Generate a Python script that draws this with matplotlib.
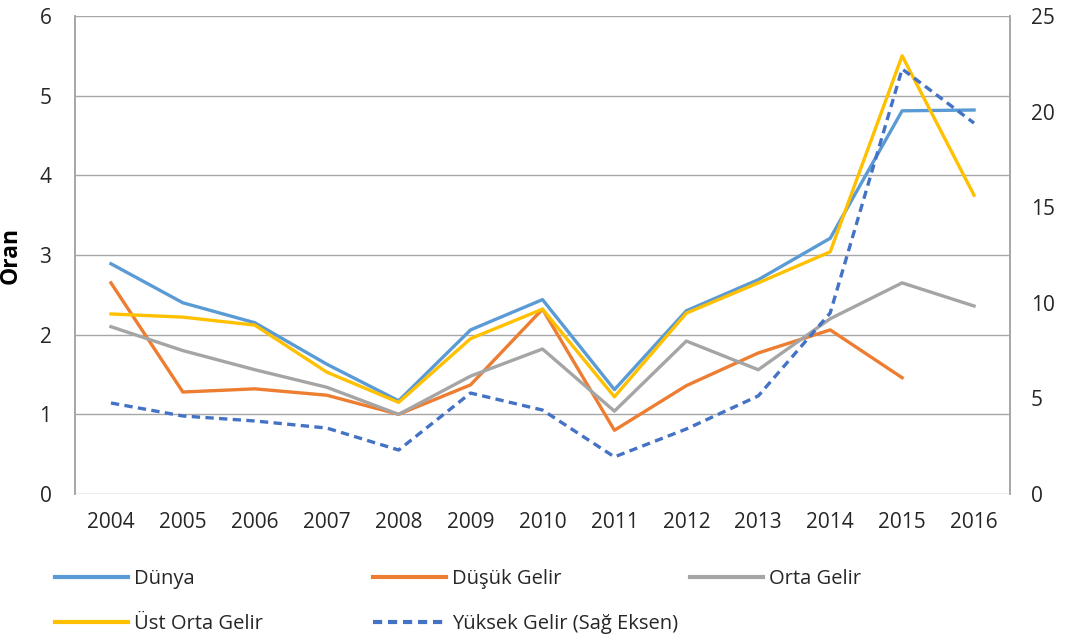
import matplotlib.pyplot as plt
from matplotlib.lines import Line2D

plt.rcParams['font.family'] = ['Open Sans', 'DejaVu Sans']

years = [2004, 2005, 2006, 2007, 2008, 2009, 2010, 2011, 2012, 2013, 2014, 2015, 2016]
dunya = [2.89, 2.40, 2.15, 1.63, 1.17, 2.06, 2.44, 1.31, 2.30, 2.69, 3.21, 4.81, 4.82]
dusuk = [2.65, 1.28, 1.32, 1.24, 1.00, 1.37, 2.32, 0.80, 1.36, 1.77, 2.06, 1.46, None]
orta = [2.10, 1.80, 1.56, 1.34, 1.00, 1.48, 1.82, 1.04, 1.92, 1.56, 2.20, 2.65, 2.36]
ust_orta = [2.26, 2.22, 2.12, 1.53, 1.15, 1.95, 2.32, 1.22, 2.27, 2.65, 3.04, 5.50, 3.75]
yuksek = [4.76, 4.08, 3.82, 3.45, 2.30, 5.28, 4.39, 1.94, 3.40, 5.13, 9.47, 22.23, 19.40]

c_dunya = '#5B9BD5'
c_dusuk = '#ED7D31'
c_orta = '#A5A5A5'
c_ust = '#FFC000'
c_yuk = '#4472C4'
grid_c = '#A6A6A6'
text_c = '#262626'

fig = plt.figure(figsize=(10.67, 6.4), dpi=100)
ax = fig.add_axes([75 / 1067, 1 - 494 / 640, 935 / 1067, 478 / 640])
ax2 = ax.twinx()

x = list(range(len(years)))
lw = 2.4
ax.plot(x, dunya, color=c_dunya, lw=lw, label='Dünya')
ax.plot(x[:-1], dusuk[:-1], color=c_dusuk, lw=lw, label='Düşük Gelir')
ax.plot(x, orta, color=c_orta, lw=lw, label='Orta Gelir')
ax.plot(x, ust_orta, color=c_ust, lw=lw, label='Üst Orta Gelir')
ax2.plot(x, yuksek, color=c_yuk, lw=lw, ls=(0, (2.5, 1.6)), label='Yüksek Gelir (Sağ Eksen)')

ax.set_xlim(-0.5, len(years) - 0.5)
ax.set_ylim(0, 6)
ax2.set_ylim(0, 25)
ax.set_yticks(range(0, 7))
ax2.set_yticks(range(0, 26, 5))
ax.set_xticks(x)
ax.set_xticklabels([str(y) for y in years])

ax.yaxis.grid(True, color=grid_c, lw=1)
ax.set_axisbelow(True)
for a in (ax, ax2):
    a.spines['top'].set_visible(False)
    a.spines['bottom'].set_visible(False)
    a.spines['left'].set_color(grid_c)
    a.spines['right'].set_color(grid_c)
    a.spines['left'].set_linewidth(1.2)
    a.spines['right'].set_linewidth(1.2)
    a.tick_params(length=0, labelsize=15, colors=text_c)
ax.tick_params(axis='y', pad=17)
ax.tick_params(axis='x', pad=13)
ax2.tick_params(axis='y', pad=15)

ax.set_ylabel('Oran', fontsize=16.5, fontweight='bold', color='black', labelpad=12)

# legend laid out in equal-width columns like the original
h_dunya = Line2D([], [], color=c_dunya, lw=3)
h_dusuk = Line2D([], [], color=c_dusuk, lw=3)
h_orta = Line2D([], [], color=c_orta, lw=3)
h_ust = Line2D([], [], color=c_ust, lw=3)
h_yuk = Line2D([], [], color=c_yuk, lw=3, ls=(0, (2.2, 1.4)))

columns = [
    ([h_dunya, h_ust], ['Dünya', 'Üst Orta Gelir'], 55),
    ([h_dusuk, h_yuk], ['Düşük Gelir', 'Yüksek Gelir (Sağ Eksen)'], 373),
    ([h_orta], ['Orta Gelir'], 690),
]
for handles, labels, px in columns:
    leg = fig.legend(handles, labels, loc='upper left',
                     bbox_to_anchor=(px / 1067, 1 - 569 / 640),
                     frameon=False, fontsize=14.5, handlelength=3.63,
                     handletextpad=0.31, labelspacing=1.23,
                     borderaxespad=0, borderpad=0)
    for t in leg.get_texts():
        t.set_color(text_c)

fig.savefig('out.png', dpi=100)
